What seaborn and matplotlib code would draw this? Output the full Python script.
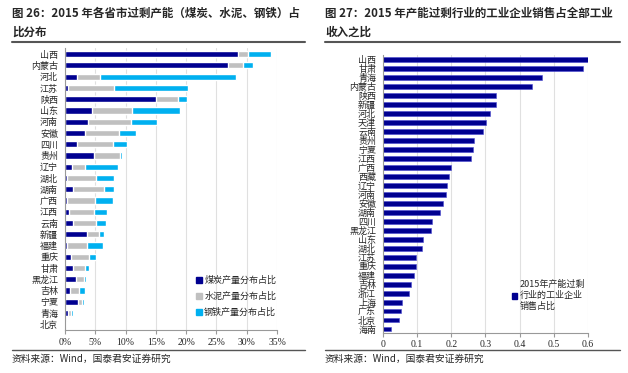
import seaborn as sns
import matplotlib.pyplot as plt
import pandas as pd
from matplotlib.patches import Patch

# 图26 数据（%）
provinces = ["山西", "内蒙古", "河北", "江苏", "陕西", "山东", "河南", "安徽", "四川", "贵州",
             "辽宁", "湖北", "湖南", "广西", "江西", "云南", "新疆", "福建", "重庆", "甘肃",
             "黑龙江", "吉林", "宁夏", "青海", "北京"]
coal = [28.6, 26.9, 1.9, 0.55, 15.0, 4.5, 3.85, 3.3, 1.9, 4.8,
        1.2, 0.3, 1.4, 0.3, 0.7, 1.25, 3.7, 0.4, 1.0, 1.25,
        1.8, 0.8, 2.2, 0.5, 0.02]
cement = [1.6, 2.5, 3.9, 7.6, 3.7, 6.6, 7.0, 5.6, 6.1, 4.2,
          2.05, 4.8, 5.0, 4.65, 4.1, 3.85, 1.85, 3.3, 3.0, 2.0,
          1.3, 1.5, 0.65, 0.45, 0.1]
steel = [3.8, 1.7, 22.4, 12.1, 1.5, 7.9, 4.3, 2.9, 2.3, 0.4,
         5.55, 3.0, 1.7, 3.05, 2.2, 1.6, 0.85, 2.5, 1.2, 0.75,
         0.4, 1.0, 0.25, 0.45, 0.25]
legend26 = ["煤炭产量分布占比", "水泥产量分布占比", "钢铁产量分布占比"]

# 图27 数据
provinces27 = ["山西", "甘肃", "青海", "内蒙古", "陕西", "新疆", "河北", "天津", "云南", "贵州",
               "宁夏", "江西", "广西", "西藏", "辽宁", "河南", "安徽", "湖南", "四川", "黑龙江",
               "山东", "湖北", "江苏", "重庆", "福建", "吉林", "浙江", "上海", "广东", "北京", "海南"]
share27 = [0.600, 0.585, 0.467, 0.437, 0.330, 0.330, 0.314, 0.302, 0.294, 0.268,
           0.264, 0.257, 0.200, 0.194, 0.188, 0.186, 0.177, 0.166, 0.144, 0.142,
           0.116, 0.113, 0.097, 0.097, 0.091, 0.083, 0.076, 0.057, 0.052, 0.048, 0.023]
legend27 = "2015年产能过剩\n行业的工业企业\n销售占比"

NAVY = "#000090"
GRAY = "#c0c0c0"
BLUE = "#00b0f0"

sns.set_style("white")
plt.rcParams['font.family'] = ['Noto Sans CJK SC', 'DejaVu Sans']

df = pd.DataFrame({"省份": provinces, "煤炭": coal, "水泥": cement, "钢铁": steel})
df["c1"] = df["煤炭"]
df["c2"] = df["煤炭"] + df["水泥"]
df["c3"] = df["c2"] + df["钢铁"]

df27 = pd.DataFrame({"省份": provinces27, "占比": share27})

fig = plt.figure(figsize=(6.28, 3.73), dpi=100)

# ---- 左图 ----
ax1 = fig.add_axes([0.1035, 0.1153, 0.3376, 0.7547])
sns.barplot(data=df, x="c3", y="省份", color=BLUE, width=0.55, ax=ax1, saturation=1)
sns.barplot(data=df, x="c2", y="省份", color=GRAY, width=0.55, ax=ax1, saturation=1)
sns.barplot(data=df, x="c1", y="省份", color=NAVY, width=0.55, ax=ax1, saturation=1)
ax1.set_xlim(0, 35)
ax1.set_xticks(range(0, 36, 5))
ax1.set_xticklabels([f"{v}%" for v in range(0, 36, 5)], fontsize=7, family='Liberation Serif')
ax1.tick_params(axis='y', labelsize=6.5, length=3, color='#999999', pad=2)
ax1.tick_params(axis='x', length=3, color='#999999', bottom=True, pad=3)
ax1.set_xlabel("")
ax1.set_ylabel("")
ax1.grid(axis='x', color='#e0e0e0', lw=0.8)
ax1.set_axisbelow(True)
for s in ["top", "right"]:
    ax1.spines[s].set_visible(False)
for s in ["left", "bottom"]:
    ax1.spines[s].set_color('#999999')
    ax1.spines[s].set_linewidth(0.8)
handles = [Patch(color=c) for c in (NAVY, GRAY, BLUE)]
ax1.legend(handles, legend26, loc='upper left', bbox_to_anchor=(0.58, 0.22), frameon=False,
           fontsize=6.5, handlelength=0.6, handleheight=0.6, handletextpad=0.3, labelspacing=0.75)

# ---- 右图 ----
ax2 = fig.add_axes([0.6099, 0.1059, 0.326, 0.7471])
sns.barplot(data=df27, x="占比", y="省份", color=NAVY, width=0.55, ax=ax2, saturation=1,
            edgecolor="#4a4ad0", linewidth=0.4)
ax2.set_xlim(0, 0.6)
ax2.set_xticks([0, 0.1, 0.2, 0.3, 0.4, 0.5, 0.6])
ax2.set_xticklabels(["0", "0.1", "0.2", "0.3", "0.4", "0.5", "0.6"], fontsize=7, family='Liberation Serif')
ax2.tick_params(axis='y', labelsize=6.5, length=3, color='#999999', pad=2)
ax2.tick_params(axis='x', length=3, color='#999999', bottom=True, pad=2)
ax2.set_xlabel("")
ax2.set_ylabel("")
ax2.grid(axis='x', color='#e0e0e0', lw=0.8)
ax2.set_axisbelow(True)
for s in ["top", "right"]:
    ax2.spines[s].set_visible(False)
for s in ["left", "bottom"]:
    ax2.spines[s].set_color('#999999')
    ax2.spines[s].set_linewidth(0.8)
ax2.legend([Patch(color=NAVY)], [legend27], loc='upper left', bbox_to_anchor=(0.59, 0.22),
           frameon=False, fontsize=6.5, handlelength=0.6, handleheight=0.6, handletextpad=0.3)

# ---- 标题、分隔线、来源 ----
fig.text(12 / 628, 1 - 7 / 373, "图 26：2015 年各省市过剩产能（煤炭、水泥、钢铁）占\n比分布",
         fontsize=8.3, fontweight='bold', va='top', ha='left', linespacing=1.6)
fig.text(325 / 628, 1 - 7 / 373, "图 27：2015 年产能过剩行业的工业企业销售占全部工业\n收入之比",
         fontsize=8.3, fontweight='bold', va='top', ha='left', linespacing=1.6)
for x0, x1 in [(12, 305), (325, 620)]:
    fig.add_artist(plt.Line2D([x0 / 628, x1 / 628], [1 - 42 / 373] * 2, color='#555555', lw=1.5))
    fig.add_artist(plt.Line2D([x0 / 628, x1 / 628], [1 - 350 / 373] * 2, color='#555555', lw=1.0))
fig.text(12 / 628, 1 - 362 / 373, "资料来源：Wind，国泰君安证券研究", fontsize=7, va='baseline')
fig.text(325 / 628, 1 - 362 / 373, "资料来源：Wind，国泰君安证券研究", fontsize=7, va='baseline')

fig.savefig("out.png", dpi=100)
